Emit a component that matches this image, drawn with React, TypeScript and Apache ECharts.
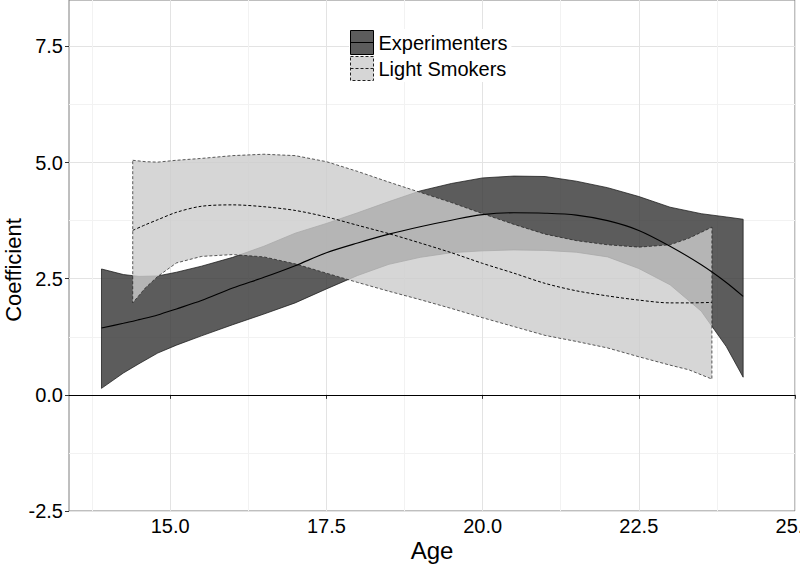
import React, { useEffect, useRef } from "react";
import * as echarts from "echarts";

// ---- Data ----
const groupNames = ["Experimenters", "Light Smokers"];

const expAges = [13.9, 14.25, 14.5, 14.8, 15.1, 15.5, 16.0, 16.5, 17.0, 17.5, 18.0, 18.5, 19.0, 19.5, 20.0, 20.5, 21.0, 21.5, 22.0, 22.5, 23.0, 23.5, 23.9, 24.17];
const expMean = [1.44, 1.54, 1.62, 1.72, 1.85, 2.03, 2.3, 2.53, 2.78, 3.06, 3.27, 3.46, 3.62, 3.76, 3.88, 3.92, 3.91, 3.87, 3.75, 3.54, 3.2, 2.8, 2.42, 2.12];
const expLower = [0.14, 0.47, 0.67, 0.9, 1.07, 1.27, 1.51, 1.74, 1.98, 2.28, 2.57, 2.81, 2.96, 3.06, 3.1, 3.12, 3.11, 3.07, 2.97, 2.72, 2.37, 1.8, 1.04, 0.38];
const expUpper = [2.71, 2.59, 2.55, 2.56, 2.64, 2.77, 2.96, 3.2, 3.48, 3.69, 3.92, 4.16, 4.39, 4.55, 4.67, 4.71, 4.7, 4.6, 4.46, 4.27, 4.04, 3.9, 3.83, 3.78];

const lightAges = [14.4, 14.6, 14.8, 15.1, 15.5, 16.0, 16.5, 17.0, 17.5, 18.0, 18.5, 19.0, 19.5, 20.0, 20.5, 21.0, 21.5, 22.0, 22.5, 23.0, 23.3, 23.67];
const lightMean = [3.54, 3.66, 3.77, 3.93, 4.06, 4.09, 4.05, 3.97, 3.83, 3.65, 3.47, 3.27, 3.06, 2.83, 2.62, 2.4, 2.24, 2.13, 2.04, 1.98, 1.98, 1.99];
const lightLower = [1.98, 2.3, 2.55, 2.84, 2.98, 3.02, 2.97, 2.82, 2.62, 2.42, 2.23, 2.05, 1.86, 1.66, 1.47, 1.28, 1.15, 1.01, 0.82, 0.64, 0.54, 0.34];
const lightUpper = [5.05, 5.02, 5.01, 5.05, 5.09, 5.15, 5.18, 5.15, 5.02, 4.81, 4.58, 4.36, 4.14, 3.9, 3.67, 3.46, 3.32, 3.23, 3.18, 3.23, 3.37, 3.61];

const xMajorTicks = [15, 17.5, 20, 22.5, 25];
const xMinorTicks = [13.75, 16.25, 18.75, 21.25, 23.75];
const yMajorTicks = [-2.5, 0, 2.5, 5, 7.5];
const yMinorTicks = [-1.25, 1.25, 3.75, 6.25];

const xTitle = "Age";
const yTitle = "Coefficient";

const FONT = "'Liberation Sans', Arial, sans-serif";
const EXP_FILL = "rgba(51,51,51,0.8)";
const LIGHT_FILL = "rgba(204,204,204,0.8)";

function makeBand(ages: number[], lower: number[], upper: number[], fill: string, stroke: string, dash: number[] | null) {
  return (params: any, api: any) => {
    if (params.dataIndex !== 0) return null;
    const pts: number[][] = [];
    for (let i = 0; i < ages.length; i++) pts.push(api.coord([ages[i], upper[i]]));
    for (let i = ages.length - 1; i >= 0; i--) pts.push(api.coord([ages[i], lower[i]]));
    return {
      type: "polygon",
      shape: { points: pts },
      style: { fill, stroke, lineWidth: 0.8, lineDash: dash || undefined },
      silent: true,
    };
  };
}

export default function App() {
  const ref = useRef<HTMLDivElement>(null);

  useEffect(() => {
    document.body.style.margin = "0";
    if (!ref.current) return;
    const chart = echarts.init(ref.current, undefined, { renderer: "svg" });

    const legendPath = "path://M0 0H23V24H0ZM0 12H23";

    const option: any = {
      animation: false,
      backgroundColor: "#ffffff",
      grid: {
        left: 69,
        right: 5,
        top: 0,
        bottom: 54,
        containLabel: false,
        outerBoundsMode: "none",
        show: true,
        borderColor: "#7f7f7f",
        borderWidth: 1,
        backgroundColor: "transparent",
      },
      legend: {
        orient: "vertical",
        left: 349,
        top: 29,
        padding: [1, 4, 1, 1],
        itemGap: 1,
        itemWidth: 23,
        itemHeight: 24,
        backgroundColor: "#ffffff",
        selectedMode: false,
        textStyle: { fontSize: 20, fontFamily: FONT, color: "#000" },
        data: [
          {
            name: groupNames[0],
            icon: legendPath,
            itemStyle: { color: EXP_FILL, borderColor: "#000", borderWidth: 1, borderType: "solid" },
          },
          {
            name: groupNames[1],
            icon: legendPath,
            itemStyle: { color: LIGHT_FILL, borderColor: "#222", borderWidth: 1, borderType: [3, 2] },
          },
        ],
      },
      xAxis: [
        {
          type: "value",
          min: 13.38,
          max: 25,
          position: "bottom",
          axisLine: { show: false },
          axisTick: { show: true, customValues: xMajorTicks, length: 4, lineStyle: { color: "#333" } },
          axisLabel: { customValues: xMajorTicks, margin: 5, fontSize: 20, fontFamily: FONT, color: "#000", formatter: (v: number) => v.toFixed(1) },
          splitLine: { show: true, lineStyle: { color: "#e3e3e3", width: 1 } },
        },
        {
          type: "value",
          min: 13.38,
          max: 25,
          position: "bottom",
          axisLine: { show: false },
          axisTick: { show: false, customValues: xMinorTicks },
          axisLabel: { show: false },
          splitLine: { show: true, lineStyle: { color: "#f2f2f2", width: 1 } },
        },
      ],
      yAxis: [
        {
          type: "value",
          min: -2.5,
          max: 8.5,
          position: "left",
          axisLine: { show: false },
          axisTick: { show: true, customValues: yMajorTicks, length: 4, lineStyle: { color: "#333" } },
          axisLabel: { customValues: yMajorTicks, margin: 6, fontSize: 20, fontFamily: FONT, color: "#000", formatter: (v: number) => v.toFixed(1) },
          splitLine: { show: true, lineStyle: { color: "#e3e3e3", width: 1 } },
        },
        {
          type: "value",
          min: -2.5,
          max: 8.5,
          position: "left",
          axisLine: { show: false },
          axisTick: { show: false, customValues: yMinorTicks },
          axisLabel: { show: false },
          splitLine: { show: true, lineStyle: { color: "#f2f2f2", width: 1 } },
        },
      ],
      graphic: [
        {
          type: "text",
          x: 13,
          y: 270,
          rotation: Math.PI / 2,
          style: { text: yTitle, fontSize: 22, fontFamily: FONT, fill: "#000", textAlign: "center", textVerticalAlign: "middle" },
        },
        {
          type: "text",
          x: 432,
          y: 550,
          style: { text: xTitle, fontSize: 24, fontFamily: FONT, fill: "#000", textAlign: "center", textVerticalAlign: "middle" },
        },
      ],
      series: [
        {
          name: groupNames[0],
          type: "custom",
          xAxisIndex: 0,
          yAxisIndex: 0,
          data: expAges.map((a, i) => [a, expLower[i], expUpper[i]]),
          encode: { x: 0, y: [1, 2] },
          renderItem: makeBand(expAges, expLower, expUpper, EXP_FILL, "rgba(20,20,20,0.9)", null),
          itemStyle: { color: EXP_FILL },
          z: 2,
        },
        {
          name: groupNames[1],
          type: "custom",
          xAxisIndex: 0,
          yAxisIndex: 0,
          data: lightAges.map((a, i) => [a, lightLower[i], lightUpper[i]]),
          encode: { x: 0, y: [1, 2] },
          renderItem: makeBand(lightAges, lightLower, lightUpper, LIGHT_FILL, "rgba(30,30,30,0.9)", [3, 2]),
          itemStyle: { color: LIGHT_FILL },
          z: 2,
        },
        {
          name: groupNames[0] + " fit",
          type: "line",
          data: expAges.map((a, i) => [a, expMean[i]]),
          smooth: 0.3,
          showSymbol: false,
          lineStyle: { color: "#000", width: 1.1, type: "solid" },
          z: 3,
          markLine: {
            silent: true,
            symbol: "none",
            label: { show: false },
            lineStyle: { color: "#000", width: 1, type: "solid" },
            data: [{ yAxis: 0 }],
          },
        },
        {
          name: groupNames[1] + " fit",
          type: "line",
          data: lightAges.map((a, i) => [a, lightMean[i]]),
          smooth: 0.3,
          showSymbol: false,
          lineStyle: { color: "#000", width: 1, type: [3, 2] },
          z: 3,
        },
      ],
    };

    chart.setOption(option);
    return () => chart.dispose();
  }, []);

  return <div ref={ref} style={{ width: 800, height: 565 }} />;
}
